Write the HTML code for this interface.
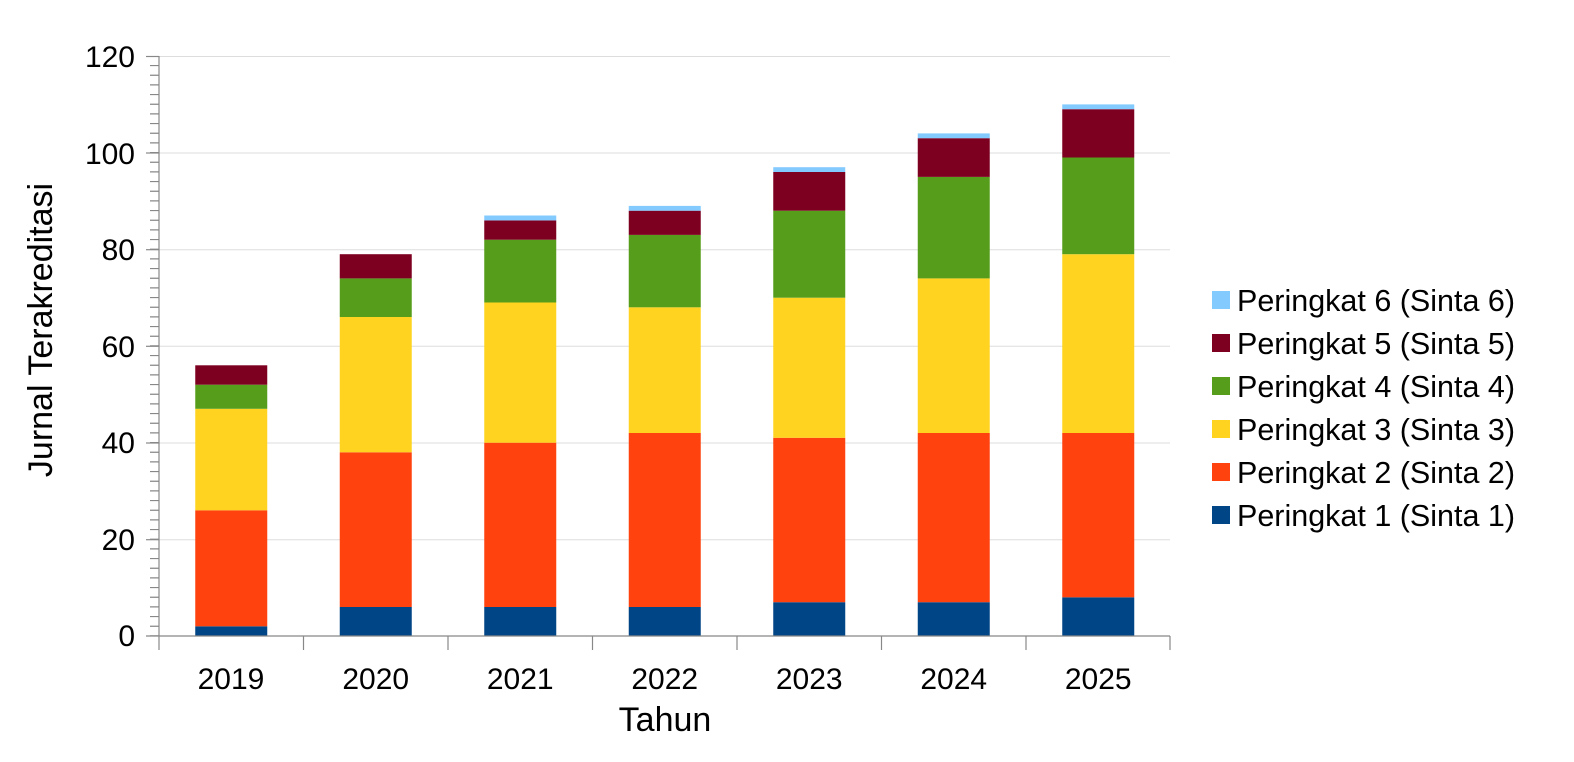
<!DOCTYPE html>
<html><head><meta charset="utf-8"><style>
body{margin:0;background:#fff}
svg{display:block;font-family:"Liberation Sans",Arial,sans-serif}
</style></head><body>
<svg width="1574" height="762" viewBox="0 0 1574 762" xmlns="http://www.w3.org/2000/svg">
<g stroke="#dddddd" stroke-width="1">
<line x1="159" x2="1170" y1="56.5" y2="56.5"/>
<line x1="159" x2="1170" y1="153" y2="153"/>
<line x1="159" x2="1170" y1="249.7" y2="249.7"/>
<line x1="159" x2="1170" y1="346.3" y2="346.3"/>
<line x1="159" x2="1170" y1="443" y2="443"/>
<line x1="159" x2="1170" y1="539.7" y2="539.7"/>
</g>
<g>
<rect x="195.25" y="626.3" width="72" height="9.7" fill="#004586"/>
<rect x="195.25" y="510.3" width="72" height="116" fill="#ff420e"/>
<rect x="195.25" y="408.8" width="72" height="101.5" fill="#ffd320"/>
<rect x="195.25" y="384.7" width="72" height="24.1" fill="#579d1c"/>
<rect x="195.25" y="365.3" width="72" height="19.4" fill="#7e0021"/>
<rect x="339.75" y="607" width="72" height="29" fill="#004586"/>
<rect x="339.75" y="452.3" width="72" height="154.7" fill="#ff420e"/>
<rect x="339.75" y="317" width="72" height="135.3" fill="#ffd320"/>
<rect x="339.75" y="278.4" width="72" height="38.6" fill="#579d1c"/>
<rect x="339.75" y="254.2" width="72" height="24.2" fill="#7e0021"/>
<rect x="484.25" y="607" width="72" height="29" fill="#004586"/>
<rect x="484.25" y="442.7" width="72" height="164.3" fill="#ff420e"/>
<rect x="484.25" y="302.5" width="72" height="140.2" fill="#ffd320"/>
<rect x="484.25" y="239.7" width="72" height="62.8" fill="#579d1c"/>
<rect x="484.25" y="220.4" width="72" height="19.3" fill="#7e0021"/>
<rect x="484.25" y="215.5" width="72" height="4.9" fill="#83caff"/>
<rect x="628.75" y="607" width="72" height="29" fill="#004586"/>
<rect x="628.75" y="433" width="72" height="174" fill="#ff420e"/>
<rect x="628.75" y="307.3" width="72" height="125.7" fill="#ffd320"/>
<rect x="628.75" y="234.9" width="72" height="72.4" fill="#579d1c"/>
<rect x="628.75" y="210.7" width="72" height="24.2" fill="#7e0021"/>
<rect x="628.75" y="205.9" width="72" height="4.8" fill="#83caff"/>
<rect x="773.25" y="602.2" width="72" height="33.8" fill="#004586"/>
<rect x="773.25" y="437.8" width="72" height="164.4" fill="#ff420e"/>
<rect x="773.25" y="297.7" width="72" height="140.1" fill="#ffd320"/>
<rect x="773.25" y="210.7" width="72" height="87" fill="#579d1c"/>
<rect x="773.25" y="172" width="72" height="38.7" fill="#7e0021"/>
<rect x="773.25" y="167.2" width="72" height="4.8" fill="#83caff"/>
<rect x="917.75" y="602.2" width="72" height="33.8" fill="#004586"/>
<rect x="917.75" y="433" width="72" height="169.2" fill="#ff420e"/>
<rect x="917.75" y="278.4" width="72" height="154.6" fill="#ffd320"/>
<rect x="917.75" y="176.9" width="72" height="101.5" fill="#579d1c"/>
<rect x="917.75" y="138.2" width="72" height="38.7" fill="#7e0021"/>
<rect x="917.75" y="133.4" width="72" height="4.8" fill="#83caff"/>
<rect x="1062.25" y="597.3" width="72" height="38.7" fill="#004586"/>
<rect x="1062.25" y="433" width="72" height="164.3" fill="#ff420e"/>
<rect x="1062.25" y="254.2" width="72" height="178.8" fill="#ffd320"/>
<rect x="1062.25" y="157.5" width="72" height="96.7" fill="#579d1c"/>
<rect x="1062.25" y="109.2" width="72" height="48.3" fill="#7e0021"/>
<rect x="1062.25" y="104.4" width="72" height="4.8" fill="#83caff"/>
</g>
<g stroke="#888" stroke-width="1.2">
<line x1="159" y1="56" x2="159" y2="636"/>
<line x1="146" y1="636" x2="1170" y2="636"/>
<line x1="154.5" y1="636.5" x2="154.5" y2="56" stroke-width="9" stroke-dasharray="1.2 8.467"/>
<line x1="146" x2="159" y1="56.5" y2="56.5"/>
<line x1="146" x2="159" y1="153" y2="153"/>
<line x1="146" x2="159" y1="249.7" y2="249.7"/>
<line x1="146" x2="159" y1="346.3" y2="346.3"/>
<line x1="146" x2="159" y1="443" y2="443"/>
<line x1="146" x2="159" y1="539.7" y2="539.7"/>
<line x1="159" x2="159" y1="636" y2="650"/>
<line x1="303.5" x2="303.5" y1="636" y2="650"/>
<line x1="448" x2="448" y1="636" y2="650"/>
<line x1="592.5" x2="592.5" y1="636" y2="650"/>
<line x1="737" x2="737" y1="636" y2="650"/>
<line x1="881.5" x2="881.5" y1="636" y2="650"/>
<line x1="1026" x2="1026" y1="636" y2="650"/>
<line x1="1170" x2="1170" y1="636" y2="650"/>
</g>
<g font-size="30" fill="#000" text-anchor="end">
<text x="135" y="67">120</text>
<text x="135" y="164">100</text>
<text x="135" y="260">80</text>
<text x="135" y="357">60</text>
<text x="135" y="453">40</text>
<text x="135" y="550">20</text>
<text x="135" y="646">0</text>
</g>
<g font-size="30" fill="#000" text-anchor="middle">
<text x="231" y="689">2019</text>
<text x="375.75" y="689">2020</text>
<text x="520.25" y="689">2021</text>
<text x="664.75" y="689">2022</text>
<text x="809.25" y="689">2023</text>
<text x="953.75" y="689">2024</text>
<text x="1098.25" y="689">2025</text>
<text x="665" y="731" font-size="34">Tahun</text>
<text transform="translate(52,330) rotate(-90)" font-size="34">Jurnal Terakreditasi</text>
</g>
<g font-size="30.5" fill="#000">
<rect x="1212" y="291" width="18" height="18" fill="#83caff"/><text x="1237" y="311">Peringkat 6 (Sinta 6)</text>
<rect x="1212" y="334" width="18" height="18" fill="#7e0021"/><text x="1237" y="354">Peringkat 5 (Sinta 5)</text>
<rect x="1212" y="377" width="18" height="18" fill="#579d1c"/><text x="1237" y="397">Peringkat 4 (Sinta 4)</text>
<rect x="1212" y="420" width="18" height="18" fill="#ffd320"/><text x="1237" y="440">Peringkat 3 (Sinta 3)</text>
<rect x="1212" y="463" width="18" height="18" fill="#ff420e"/><text x="1237" y="483">Peringkat 2 (Sinta 2)</text>
<rect x="1212" y="506" width="18" height="18" fill="#004586"/><text x="1237" y="526">Peringkat 1 (Sinta 1)</text>
</g>
</svg>
</body></html>
